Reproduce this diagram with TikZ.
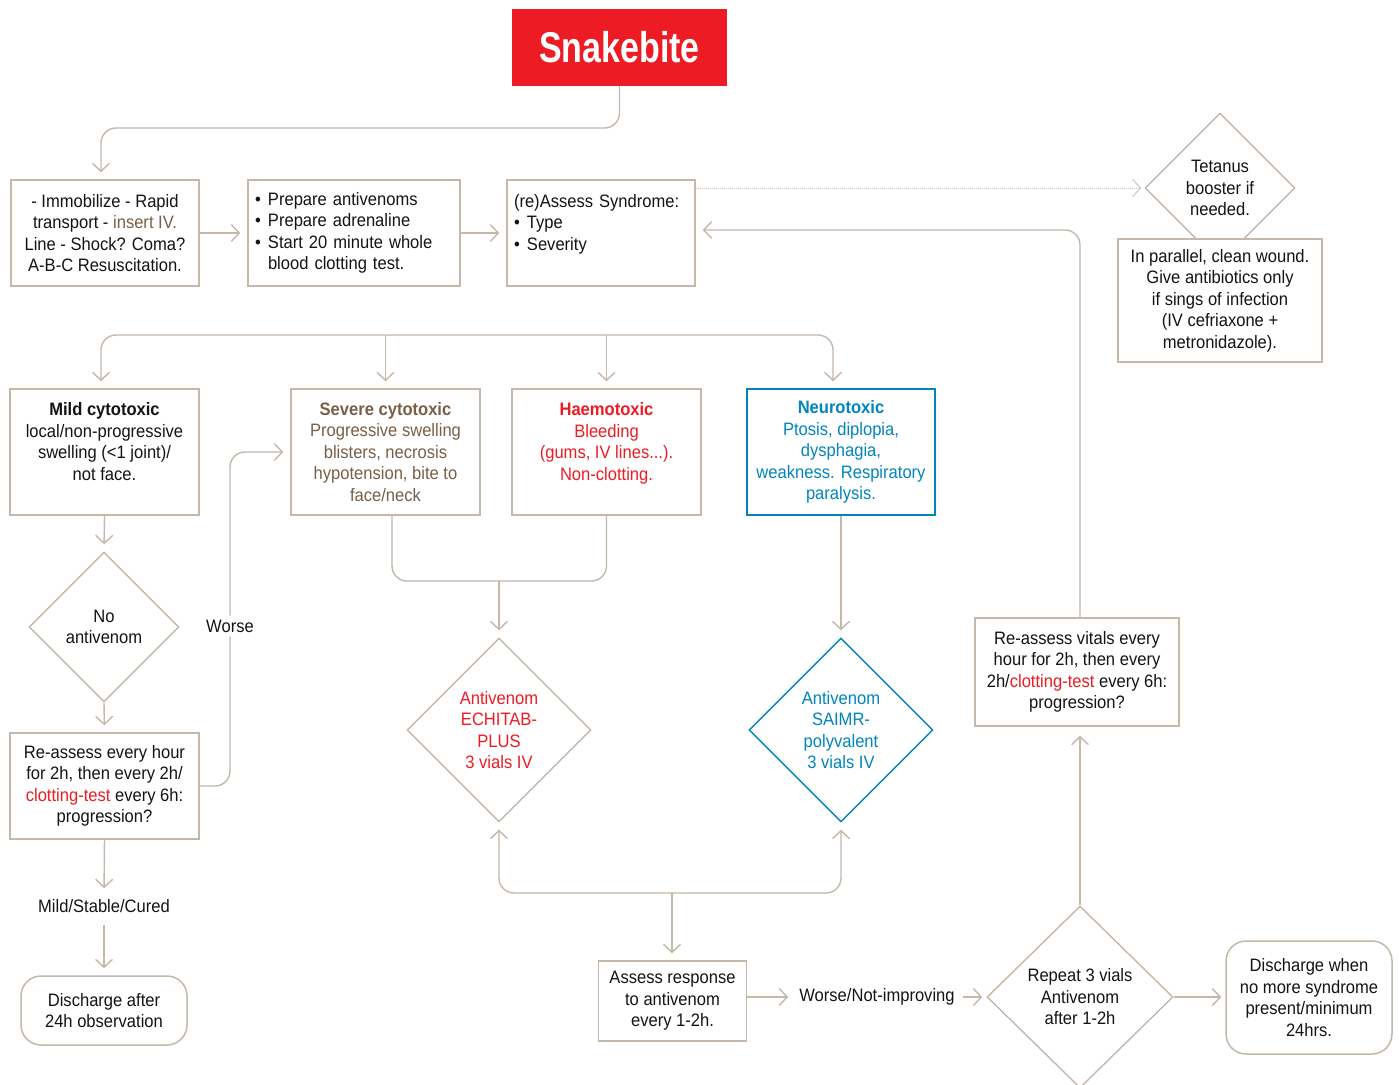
\documentclass[tikz,border=0pt]{standalone}
\usepackage{fontspec}
\setmainfont{Liberation Sans}[FakeStretch=0.92]
\newfontfamily\titlefont{Liberation Sans}[FakeStretch=0.79]
\usetikzlibrary{arrows.meta,shapes.geometric,calc}
\definecolor{lineC}{RGB}{196,184,170}
\definecolor{snakered}{RGB}{237,28,36}
\definecolor{brownC}{RGB}{122,94,70}
\definecolor{blueC}{RGB}{0,133,190}
\definecolor{inkC}{RGB}{20,20,20}
\newcommand{\fs}{\fontsize{18}{21.5}\selectfont}
\newcommand{\bul}{\makebox[13pt][l]{•}}
\tikzset{
  ln/.style={draw=lineC, line width=1.4pt},
  arr/.style={ln, -{Straight Barb[length=8pt,width=17pt,line width=1.4pt]}, shorten >=7pt},
  box/.style={draw=lineC, line width=1.5pt, fill=white, inner sep=0pt, align=center, font=\fs, text=inkC},
  rbox/.style={box, rounded corners=20pt},
  dia/.style={diamond, aspect=1, draw=lineC, line width=1.4pt, fill=white, inner sep=0pt, align=center, font=\fs, text=inkC},
  lbl/.style={inner sep=4pt, fill=white, font=\fs, text=inkC},
}
\begin{document}
\begin{tikzpicture}[x=1pt,y=-1pt]
\useasboundingbox (0,0) rectangle (1399,1084);
\fill[white] (0,0) rectangle (1399,1084);

% nodes
\node[fill=snakered, minimum width=215, minimum height=77, inner sep=0pt, text=white, font=\titlefont\fontsize{43}{46}\selectfont\bfseries] (title) at (619.5,47.5) {Snakebite};

\node[box, minimum width=188, minimum height=106] (b1) at (105,233)
 {- Immobilize - Rapid\\transport - {\color{brownC}insert IV.}\\Line - Shock? Coma?\\A-B-C Resuscitation.};
\node[box, minimum width=212, minimum height=106, text width=198pt, inner xsep=7pt, align=left] (b2) at (354,233)
 {\bul Prepare antivenoms\\\bul Prepare adrenaline\\\bul Start 20 minute whole\\\hspace*{13pt}blood clotting test.};
\node[box, minimum width=188, minimum height=106, text width=174pt, inner xsep=7pt, align=left] (b3) at (601,233)
 {(re)Assess Syndrome:\\\bul Type\\\bul Severity\\~};

\node[dia, minimum width=150, minimum height=150] (tet) at (1220,188) {Tetanus\\booster if\\needed.};
\node[box, minimum width=204, minimum height=123] (par) at (1220,300.5)
 {In parallel, clean wound.\\Give antibiotics only\\if sings of infection\\(IV cefriaxone +\\metronidazole).};

\node[box, minimum width=189, minimum height=126] (mild) at (104.5,452)
 {\textbf{Mild cytotoxic}\\local/non-progressive\\swelling (<1 joint)/\\not face.\\~};
\node[box, minimum width=189, minimum height=126, text=brownC] (sev) at (385.5,452)
 {\textbf{Severe cytotoxic}\\Progressive swelling\\blisters, necrosis\\hypotension, bite to\\face/neck};
\node[box, minimum width=189, minimum height=126, text=snakered] (hae) at (606.5,452)
 {\textbf{Haemotoxic}\\Bleeding\\(gums, IV lines...).\\Non-clotting.\\~};
\node[box, draw=blueC, minimum width=188, minimum height=126, text=blueC] (neu) at (841,452)
 {\textbf{Neurotoxic}\\Ptosis, diplopia,\\dysphagia,\\weakness. Respiratory\\paralysis.};

\node[dia, minimum width=150, minimum height=150] (noav) at (104,627) {No\\antivenom};
\node[box, minimum width=189, minimum height=106] (rea) at (104.5,786)
 {Re-assess every hour\\for 2h, then every 2h/\\{\color{snakered}clotting-test} every 6h:\\progression?};
\node[lbl] (msc) at (104,906) {Mild/Stable/Cured};
\node[rbox, minimum width=166, minimum height=69] (dis1) at (104,1010.5) {Discharge after\\24h observation};
\node[lbl] (worse) at (230,626) {Worse};

\node[dia, minimum width=184, minimum height=184, text=snakered] (echi) at (499,730) {Antivenom\\ECHITAB-\\PLUS\\3 vials IV};
\node[dia, draw=blueC, minimum width=184, minimum height=184, text=blueC] (saimr) at (841,730) {Antivenom\\SAIMR-\\polyvalent\\3 vials IV};

\node[box, minimum width=148, minimum height=80] (asr) at (672.5,1001) {Assess response\\to antivenom\\every 1-2h.};
\node[lbl] (wni) at (877,997) {Worse/Not-improving};
\node[dia, minimum width=186, minimum height=182] (rep) at (1080,997) {Repeat 3 vials\\Antivenom\\after 1-2h};
\node[rbox, minimum width=166, minimum height=113] (dis2) at (1309,997.5) {Discharge when\\no more syndrome\\present/minimum\\24hrs.};
\node[box, minimum width=204, minimum height=108] (rav) at (1077,672)
 {Re-assess vitals every\\hour for 2h, then every\\2h/{\color{snakered}clotting-test} every 6h:\\progression?};

% coordinates
\coordinate (t1) at (101,128);
\coordinate (br) at (385.5,335);
\coordinate (m1) at (499,581);
\coordinate (m2) at (672,893);

% connectors
\draw[arr, rounded corners=15pt] (title.south) |- (t1) -- ([xshift=-4pt]b1.north);
\draw[arr] (b1.east) -- (b2.west);
\draw[arr] (b2.east) -- (b3.west);
\draw[draw=gray!45, line width=1pt, densely dotted, -{Straight Barb[length=8pt,width=17pt,line width=1pt]}, shorten >=3pt] (b3.east |- tet.west) -- (tet.west);
\draw[arr, rounded corners=15pt] (rav.north -| rep.north) |- ($(b3.east)+(0,-3)$);

\draw[arr, rounded corners=15pt] (br) -| ([xshift=-3.5pt]mild.north);
\draw[arr] (br) -- (sev.north);
\draw[arr, rounded corners=15pt] (br) -| ([xshift=-8pt]neu.north);
\draw[arr] (hae.north |- br) -- (hae.north);

\draw[arr] (mild.south) -- (noav.north);
\draw[arr] (noav.south) -- (rea.north);
\draw[ln, rounded corners=15pt] (rea.east) -| (worse.south);
\draw[arr, rounded corners=15pt] (worse.north) |- (sev.west);
\draw[arr] (rea.south) -- (msc.north);
\draw[arr, shorten <=8pt] (msc.south) -- (dis1.north);

\draw[ln, rounded corners=15pt] ([xshift=6.5pt]sev.south) |- (m1) -| (hae.south);
\draw[arr] (m1) -- (echi.north);
\draw[arr] (neu.south) -- (saimr.north);

\draw[arr, rounded corners=15pt] (m2) -| (echi.south);
\draw[arr, rounded corners=15pt] (m2) -| (saimr.south);
\draw[arr] (m2) -- (asr.north -| m2);

\draw[arr] (asr.east |- wni.west) -- (wni.west);
\draw[arr, shorten >=4pt, shorten <=4pt] (wni.east) -- (rep.west);
\draw[arr, shorten >=4pt] (rep.east) -- (rep.east -| dis2.west);
\draw[arr, shorten >=9pt] (rep.north) -- (rep.north |- rav.south);
\end{tikzpicture}
\end{document}
